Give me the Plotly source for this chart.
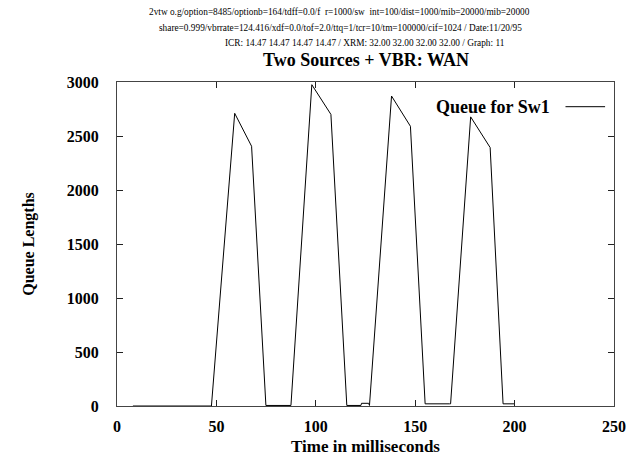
import plotly.graph_objects as go

time_ms = [8, 47.5, 59.2, 67.7, 74.9, 87.5, 98.0, 107.6, 115.6, 122.7, 123.0, 126.6, 127.0,
           138.1, 147.6, 155.0, 167.3, 167.8, 177.9, 187.7, 194.2, 200.0]
queue = [0, 0, 2710, 2405, 5, 5, 2975, 2700, 5, 5, 25, 25, 5,
         2870, 2590, 20, 20, 20, 2677, 2393, 20, 20]

x_ticks = [0, 50, 100, 150, 200, 250]
y_ticks = [0, 500, 1000, 1500, 2000, 2500, 3000]

header_lines = [
    "2vtw o.g/option=8485/optionb=164/tdff=0.0/f  r=1000/sw  int=100/dist=1000/mib=20000/mib=20000",
    "share=0.999/vbrrate=124.416/xdf=0.0/tof=2.0/ttq=1/tcr=10/tm=100000/cif=1024 / Date:11/20/95",
    "ICR: 14.47 14.47 14.47 14.47 / XRM: 32.00 32.00 32.00 32.00 / Graph: 11",
]
title = "Two Sources + VBR: WAN"
legend_label = "Queue for Sw1"
serif = "Liberation Serif, Times New Roman, serif"

fig = go.Figure()
fig.add_trace(go.Scatter(x=time_ms, y=queue, mode="lines",
                         line=dict(color="black", width=1), showlegend=False))

fig.update_layout(
    width=638, height=464,
    margin=dict(l=117, r=19, t=82, b=54),
    plot_bgcolor="white", paper_bgcolor="white",
    font=dict(family=serif, color="black"),
    showlegend=False,
)
axis_common = dict(showgrid=False, zeroline=False, showline=True, mirror="ticks",
                   linecolor="#444", linewidth=1, ticks="inside", ticklen=6,
                   tickcolor="#222", tickwidth=1,
                   tickfont=dict(family=serif, size=16, weight="bold", color="black"))
fig.update_xaxes(range=[0, 250], tickvals=x_ticks, ticklabelstandoff=6,
                 ticklabeloverflow="allow", **axis_common,
                 title=dict(text="Time in milliseconds", standoff=5,
                            font=dict(family=serif, size=17, weight="bold")))
fig.update_yaxes(range=[0, 3000], tickvals=y_ticks, ticklabelstandoff=14, **axis_common,
                 title=dict(text="Queue Lengths", standoff=28,
                            font=dict(family=serif, size=16, weight="bold")))

# header lines: (page center x, page y)
header_pos = [(342, 11), (343, 27), (367, 43)]
for line, (px, py) in zip(header_lines, header_pos):
    fig.add_annotation(text=line, xref="paper", yref="paper",
                       x=(px - 117) / 502, y=(410 - py) / 328, showarrow=False,
                       font=dict(family=serif, size=9.3), xanchor="center", yanchor="middle")
fig.add_annotation(text="<b>" + title + "</b>", xref="paper", yref="paper", x=0.5, y=1,
                   yshift=22, showarrow=False, font=dict(family=serif, size=18),
                   xanchor="center", yanchor="middle")
fig.add_annotation(text="<b>" + legend_label + "</b>", xref="paper", yref="paper",
                   x=(556 - 117) / 502, y=(410 - 107) / 328, showarrow=False,
                   font=dict(family=serif, size=18), xanchor="right", yanchor="middle")
fig.add_shape(type="line", xref="paper", yref="paper",
              x0=(570 - 117) / 502, x1=(610 - 117) / 502,
              y0=(410 - 107) / 328, y1=(410 - 107) / 328,
              line=dict(color="black", width=1))

fig.write_html("out.html", config={"displayModeBar": False},
               post_script="document.body.style.margin='0';document.body.style.overflow='hidden';")
